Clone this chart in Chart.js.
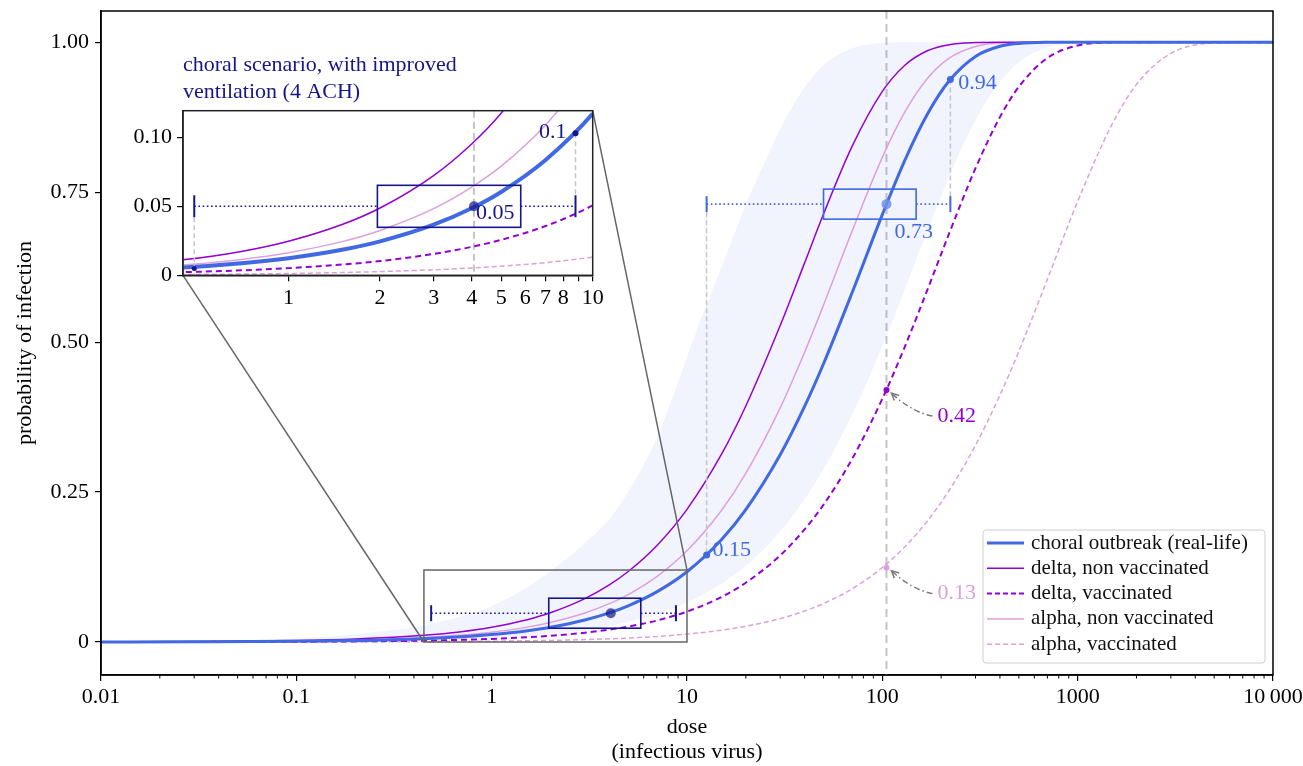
<!DOCTYPE html>
<html><head><meta charset="utf-8">
<script src="https://cdn.jsdelivr.net/npm/chart.js@4.4.0/dist/chart.umd.min.js"></script>
<style>
html,body{margin:0;padding:0;background:#fff;}
#wrap{position:relative;width:1303px;height:766px;overflow:hidden;background:#fff;}
canvas{position:absolute;}
</style></head><body>
<div id="wrap">
<canvas id="main" width="1303" height="766" style="left:0;top:0;width:1303px;height:766px"></canvas>
<canvas id="inset" width="510" height="290" style="left:100px;top:40px;width:510px;height:290px"></canvas>
</div>
<script>
const FONT = "'Liberation Serif','Times New Roman',serif";

// ---- data ----
const doses   = [0.01,0.03,0.1,0.2,0.45,0.7,1,1.5,2,3,4,5,7,10,15,20,30,40,50,70,100,130,170,220,300,400,500,700,1000,1500,2000,3000,5000,10000];
const choral  = [0.0001,0.0004,0.0012,0.0025,0.0056,0.0087,0.0124,0.0185,0.0246,0.0367,0.0486,0.0604,0.0836,0.1172,0.1706,0.2207,0.3121,0.3927,0.4639,0.5822,0.7126,0.8023,0.8799,0.9356,0.9763,0.9932,0.998,0.9998,1,1,1,1,1,1];
const deltaNV = [0.0002,0.0007,0.0025,0.005,0.0112,0.0173,0.0247,0.0368,0.0488,0.0723,0.0952,0.1175,0.1605,0.2212,0.3127,0.3935,0.5276,0.6321,0.7135,0.8262,0.9179,0.9612,0.9857,0.9959,0.9994,1,1,1,1,1,1,1,1,1];
const deltaV  = [0.0001,0.0002,0.0005,0.001,0.0023,0.0036,0.0052,0.0078,0.0103,0.0155,0.0206,0.0257,0.0357,0.0507,0.075,0.0988,0.1444,0.1878,0.2289,0.3051,0.4055,0.4913,0.5869,0.6815,0.7899,0.8751,0.9257,0.9737,0.9945,0.9996,1,1,1,1];
const alphaNV = [0.0002,0.0005,0.0016,0.0033,0.0074,0.0115,0.0164,0.0244,0.0325,0.0483,0.0639,0.0791,0.109,0.1521,0.2192,0.2811,0.3904,0.4831,0.5618,0.685,0.808,0.8829,0.9395,0.9735,0.9929,0.9986,0.9997,1,1,1,1,1,1,1];
const alphaV  = [0,0,0.0001,0.0003,0.0006,0.0009,0.0013,0.002,0.0027,0.004,0.0053,0.0066,0.0092,0.0132,0.0197,0.0262,0.039,0.0517,0.0641,0.0886,0.1242,0.1584,0.2018,0.253,0.3282,0.4116,0.4847,0.6047,0.7345,0.8632,0.9295,0.9813,0.9987,1];

const bandDoses = [0.01,0.03,0.1,0.2,0.3,0.45,0.7,1,1.5,2,3,4,5,6,7,8.5,10,12,14,17,20,25,30,35,40,50,60,70,80,90,110,130,150,170,200,240,280,330,400,470,550,650,800,1000,10000];
const bandHigh  = [0.0006,0.002,0.006,0.013,0.019,0.028,0.043,0.06,0.09,0.118,0.165,0.205,0.25,0.295,0.34,0.41,0.475,0.545,0.6,0.67,0.73,0.8,0.855,0.895,0.925,0.962,0.98,0.99,0.995,0.998,0.9995,1,1,1,1,1,1,1,1,1,1,1,1,1,1];
const bandLow   = [0,0.0002,0.0007,0.0014,0.002,0.003,0.0048,0.0068,0.0101,0.0135,0.0202,0.0268,0.0334,0.04,0.0465,0.0562,0.0657,0.0784,0.0907,0.1092,0.1271,0.1563,0.1846,0.2119,0.2381,0.2882,0.3351,0.3788,0.4195,0.4577,0.5266,0.5869,0.6394,0.6852,0.7434,0.8044,0.851,0.8939,0.9341,0.9591,0.9762,0.988,0.9957,0.9989,1];

const seriesNames = ['choral outbreak (real-life)','delta, non vaccinated','delta, vaccinated','alpha, non vaccinated','alpha, vaccinated'];

const xTickValues = [0.01,0.1,1,10,100,1000,10000];
const xTickLabels = ['0.01','0.1','1','10','100','1000','10\u2009000'];
const yTickValues = [0,0.25,0.5,0.75,1];
const yTickLabels = ['0','0.25','0.50','0.75','1.00'];
const insetXTicks  = [1,2,3,4,5,6,7,8,9,10];
const insetXLabels = ['1','2','3','4','5','6','7','8','','10'];
const insetYTicks  = [0,0.05,0.1];
const insetYLabels = ['0','0.05','0.10'];

// summaries (whisker low, q1, q3, whisker high), medians, marked values
const realBox = [12.6,50,149,223];
const realMedianDose = 105, realMedianP = 0.73;
const realLowDose = 12.6, realLowP = 0.145;
const realHighDose = 223, realHighP = 0.938;
const ventBox = [0.49,1.96,5.8,8.78];
const ventMedianDose = 4.07, ventMedianP = 0.05;
const ventHighP = 0.103, ventLowP = 0.005;
const deltaVAtMean = 0.42, alphaVAtMean = 0.124;
const zoomRect = [0.45,10,0,0.12];

// ---- styles ----
const C_CHORAL = '#4169e1', C_DELTA = '#9400d3', C_ALPHA = '#dda0dd', C_VENT = '#16168c', C_GUIDE = '#c4c4c4';
const legendStyles = [
  {color:C_CHORAL,width:3,dash:[]},
  {color:C_DELTA,width:1.5,dash:[]},
  {color:C_DELTA,width:2,dash:[5,3]},
  {color:C_ALPHA,width:1.5,dash:[]},
  {color:C_ALPHA,width:1.5,dash:[5,3]}
];

function pts(xs, ys){ return xs.map((x,i)=>({x:x,y:ys[i]})); }
function lineSet(label, ys, color, width, dash){
  return {label:label, data:pts(doses,ys), borderColor:color, backgroundColor:color, borderWidth:width,
    borderDash:dash, pointRadius:0, fill:false, cubicInterpolationMode:'monotone', borderCapStyle:'butt'};
}
function curveSets(thick){
  return [
    lineSet(seriesNames[0], choral, C_CHORAL, thick, []),
    lineSet(seriesNames[1], deltaNV, C_DELTA, 1.5, []),
    lineSet(seriesNames[3], alphaNV, C_ALPHA, 1.5, []),
    lineSet(seriesNames[2], deltaV, C_DELTA, 2, [6,4]),
    lineSet(seriesNames[4], alphaV, C_ALPHA, 1.5, [5,3])
  ];
}

function seg(ctx,x0,y0,x1,y1){ ctx.beginPath(); ctx.moveTo(x0,y0); ctx.lineTo(x1,y1); ctx.stroke(); }
function dot(ctx,x,y,r,color){ ctx.beginPath(); ctx.arc(x,y,r,0,Math.PI*2); ctx.fillStyle=color; ctx.fill(); }
function txt(ctx,s,x,y,color,align){ ctx.font='22px '+FONT; ctx.fillStyle=color; ctx.textAlign=align||'left'; ctx.textBaseline='middle'; ctx.fillText(s,x,y); }
function drawBox(ctx,sx,y,b,color,halfH,capH){
  const p=b.map(sx);
  ctx.save();
  ctx.strokeStyle=color; ctx.lineWidth=1.6; ctx.setLineDash([]);
  ctx.strokeRect(p[1],y-halfH,p[2]-p[1],2*halfH);
  ctx.setLineDash([1.6,2.6]); ctx.lineWidth=1.6;
  seg(ctx,p[0],y,p[1],y); seg(ctx,p[2],y,p[3],y);
  ctx.setLineDash([]); ctx.lineWidth=2;
  seg(ctx,p[0],y-capH,p[0],y+capH); seg(ctx,p[3],y-capH,p[3],y+capH);
  ctx.restore();
}
function curvedArrow(ctx,x0,y0,cx,cy,x1,y1){
  ctx.save();
  ctx.strokeStyle='#7a7a7a'; ctx.lineWidth=1.5; ctx.setLineDash([6,3,1.5,3]);
  ctx.beginPath(); ctx.moveTo(x0,y0); ctx.quadraticCurveTo(cx,cy,x1,y1); ctx.stroke();
  ctx.setLineDash([]);
  const a=Math.atan2(y1-cy,x1-cx), L=8;
  ctx.beginPath();
  ctx.moveTo(x1-L*Math.cos(a-0.45),y1-L*Math.sin(a-0.45));
  ctx.lineTo(x1,y1);
  ctx.lineTo(x1-L*Math.cos(a+0.45),y1-L*Math.sin(a+0.45));
  ctx.stroke();
  ctx.restore();
}

// ---- inset chart ----
const INSET_LEFT=100, INSET_TOP=40;
const insetDecor = {
  id:'insetDecor',
  beforeDraw(chart){
    const a=chart.chartArea, ctx=chart.ctx;
    ctx.save(); ctx.fillStyle='#fff'; ctx.fillRect(a.left,a.top,a.right-a.left,a.bottom-a.top); ctx.restore();
  },
  beforeDatasetsDraw(chart){
    const a=chart.chartArea, ctx=chart.ctx, sx=v=>chart.scales.x.getPixelForValue(v);
    ctx.save(); ctx.strokeStyle=C_GUIDE; ctx.lineWidth=2; ctx.setLineDash([7,4]);
    seg(ctx,sx(ventMedianDose),a.top,sx(ventMedianDose),a.bottom); ctx.restore();
  },
  afterDatasetsDraw(chart){
    const a=chart.chartArea, ctx=chart.ctx;
    const sx=v=>chart.scales.x.getPixelForValue(v), sy=v=>chart.scales.y.getPixelForValue(v);
    const yl=sy(ventMedianP), cap=11;
    ctx.save();
    ctx.beginPath(); ctx.rect(a.left,a.top,a.right-a.left,a.bottom-a.top); ctx.clip();
    ctx.strokeStyle=C_GUIDE; ctx.lineWidth=1.5; ctx.setLineDash([5,3]);
    seg(ctx,sx(ventBox[3]),sy(ventHighP),sx(ventBox[3]),yl-cap);
    seg(ctx,sx(ventBox[0]),yl+cap,sx(ventBox[0]),a.bottom);
    ctx.setLineDash([]);
    drawBox(ctx,sx,yl,ventBox,C_VENT,21,cap);
    dot(ctx,sx(ventMedianDose),yl,5,'rgba(22,22,140,0.7)');
    dot(ctx,sx(ventBox[3]),sy(ventHighP),3,C_VENT);
    dot(ctx,sx(ventBox[0]),sy(ventLowP),2.5,C_VENT);
    ctx.restore();
    txt(ctx,'0.1',sx(ventBox[3])-9,sy(ventHighP)-1,C_VENT,'right');
    txt(ctx,'0.05',sx(ventMedianDose)+2,yl+7,C_VENT,'left');
    ctx.save(); ctx.strokeStyle='#222'; ctx.lineWidth=1.5;
    ctx.strokeRect(a.left,a.top,a.right-a.left,a.bottom-a.top); ctx.restore();
    txt(ctx,'choral scenario, with improved',a.left,a.top-45,C_VENT,'left');
    txt(ctx,'ventilation (4 ACH)',a.left,a.top-18,C_VENT,'left');
  }
};
const insetChart = new Chart(document.getElementById('inset'),{
  type:'line',
  data:{datasets:curveSets(4)},
  options:{
    responsive:false, animation:false, devicePixelRatio:1,
    layout:{padding:{left:0,right:17.3,top:70.7,bottom:0}},
    plugins:{legend:{display:false},tooltip:{enabled:false}},
    scales:{
      x:{type:'logarithmic',min:0.45,max:10,
        afterBuildTicks:s=>{s.ticks=insetXTicks.map(v=>({value:v}));},
        ticks:{autoSkip:false,maxRotation:0,minRotation:0,color:'#000',font:{family:FONT,size:22},padding:4,
          callback:(v,i)=>insetXLabels[i]},
        grid:{drawOnChartArea:false,tickLength:6,color:'#000',lineWidth:1.2},
        border:{color:'#222',width:1.5},
        afterFit:s=>{s.height=54.7;s.paddingLeft=0;s.paddingRight=0;}
      },
      y:{min:0,max:0.1193,
        afterBuildTicks:s=>{s.ticks=insetYTicks.map(v=>({value:v}));},
        ticks:{color:'#000',font:{family:FONT,size:22},padding:5,callback:(v,i)=>insetYLabels[i]},
        grid:{drawOnChartArea:false,tickLength:6,color:'#000',lineWidth:1.2},
        border:{color:'#222',width:1.5},
        afterFit:s=>{s.width=83;s.paddingTop=0;s.paddingBottom=0;}
      }
    }
  },
  plugins:[insetDecor]
});

// ---- main chart ----
const mainDecor = {
  id:'mainDecor',
  beforeDatasetsDraw(chart){
    const a=chart.chartArea, ctx=chart.ctx, sx=v=>chart.scales.x.getPixelForValue(v);
    ctx.save(); ctx.strokeStyle=C_GUIDE; ctx.lineWidth=2; ctx.setLineDash([8,5]);
    seg(ctx,sx(realMedianDose),a.top,sx(realMedianDose),a.bottom); ctx.restore();
  },
  afterDatasetsDraw(chart){
    const a=chart.chartArea, ctx=chart.ctx;
    const sx=v=>chart.scales.x.getPixelForValue(v), sy=v=>chart.scales.y.getPixelForValue(v);
    ctx.save();
    ctx.beginPath(); ctx.rect(a.left,a.top,a.right-a.left,a.bottom-a.top); ctx.clip();
    const yr=sy(realMedianP);
    // guide lines
    ctx.strokeStyle=C_GUIDE; ctx.lineWidth=1.5; ctx.setLineDash([5,3]);
    seg(ctx,sx(realLowDose),yr,sx(realLowDose),sy(realLowP));
    seg(ctx,sx(realHighDose),sy(realHighP),sx(realHighDose),yr);
    ctx.setLineDash([]);
    // boxes
    drawBox(ctx,sx,yr,realBox,C_CHORAL,15,8);
    dot(ctx,sx(realMedianDose),yr,5,'rgba(110,145,230,0.85)');
    const yv=sy(0.048);
    drawBox(ctx,sx,yv,ventBox,C_VENT,15,8);
    dot(ctx,sx(ventMedianDose),yv,5,'rgba(22,22,140,0.7)');
    // marked points
    dot(ctx,sx(realHighDose),sy(realHighP),3.5,C_CHORAL);
    dot(ctx,sx(realLowDose),sy(realLowP),3.5,C_CHORAL);
    dot(ctx,sx(realMedianDose),sy(deltaVAtMean),3,C_DELTA);
    dot(ctx,sx(realMedianDose),sy(alphaVAtMean),3,C_ALPHA);
    // labels
    txt(ctx,'0.94',sx(realHighDose)+8,sy(realHighP)+4,C_CHORAL);
    txt(ctx,'0.73',sx(realMedianDose)+8,yr+28,C_CHORAL);
    txt(ctx,'0.15',sx(realLowDose)+6,sy(realLowP)-5,C_CHORAL);
    const xm=sx(realMedianDose);
    const y42=sy(deltaVAtMean), y13=sy(alphaVAtMean);
    txt(ctx,'0.42',xm+51,y42+26,C_DELTA);
    txt(ctx,'0.13',xm+51,y13+26,C_ALPHA);
    curvedArrow(ctx,xm+46,y42+26,xm+25,y42+22,xm+5,y42+3);
    curvedArrow(ctx,xm+46,y13+26,xm+25,y13+22,xm+5,y13+3);
    // zoom rectangle
    ctx.strokeStyle='#666'; ctx.lineWidth=1.5;
    ctx.strokeRect(sx(zoomRect[0]),sy(zoomRect[3]),sx(zoomRect[1])-sx(zoomRect[0]),sy(zoomRect[2])-sy(zoomRect[3]));
    ctx.restore();

    // connectors to inset
    const ia=insetChart.chartArea;
    const iL=INSET_LEFT+ia.left, iR=INSET_LEFT+ia.right, iT=INSET_TOP+ia.top, iB=INSET_TOP+ia.bottom;
    ctx.save(); ctx.strokeStyle='#666'; ctx.lineWidth=1.5;
    seg(ctx,iL,iB,sx(zoomRect[0]),sy(zoomRect[2]));
    seg(ctx,iR,iT,sx(zoomRect[1]),sy(zoomRect[3]));
    ctx.restore();

    // spines
    ctx.save(); ctx.strokeStyle='#000'; ctx.lineWidth=1.5;
    ctx.strokeRect(a.left,a.top,a.right-a.left,a.bottom-a.top);
    // minor ticks
    ctx.lineWidth=1;
    for(let e=-2;e<4;e++){ for(let m=2;m<10;m++){ const v=m*Math.pow(10,e); const x=sx(v); seg(ctx,x,a.bottom,x,a.bottom+3.5);} }
    ctx.restore();

    // axis titles
    const cx=(a.left+a.right)/2;
    txt(ctx,'dose',cx,727,'#000','center');
    txt(ctx,'(infectious virus)',cx,752,'#000','center');
    ctx.save(); ctx.translate(25,(a.top+a.bottom)/2); ctx.rotate(-Math.PI/2);
    txt(ctx,'probability of infection',0,0,'#000','center'); ctx.restore();

    // legend
    const lx=983, ly=530, lw=282, lh=133;
    ctx.save();
    ctx.beginPath(); ctx.roundRect(lx,ly,lw,lh,3);
    ctx.fillStyle='rgba(255,255,255,0.85)'; ctx.fill();
    ctx.strokeStyle='#cfcfcf'; ctx.lineWidth=1; ctx.stroke();
    seriesNames.forEach((name,i)=>{
      const st=legendStyles[i], y=543+i*25.3;
      ctx.strokeStyle=st.color; ctx.lineWidth=st.width; ctx.setLineDash(st.dash);
      seg(ctx,lx+4,y,lx+41,y);
      ctx.setLineDash([]);
      ctx.font='21px '+FONT; ctx.fillStyle='#111'; ctx.textAlign='left'; ctx.textBaseline='middle';
      ctx.fillText(name,lx+48,y);
    });
    ctx.restore();
  }
};

const mainSets = curveSets(3).concat([
  {label:'band high',data:pts(bandDoses,bandHigh),borderWidth:0,borderColor:'rgba(0,0,0,0)',pointRadius:0,
   fill:'+1',backgroundColor:'rgba(65,105,225,0.07)',cubicInterpolationMode:'monotone'},
  {label:'band low',data:pts(bandDoses,bandLow),borderWidth:0,borderColor:'rgba(0,0,0,0)',pointRadius:0,
   fill:false,cubicInterpolationMode:'monotone'}
]);

const mainChart = new Chart(document.getElementById('main'),{
  type:'line',
  data:{datasets:mainSets},
  options:{
    responsive:false, animation:false, devicePixelRatio:1,
    layout:{padding:{left:0,right:30,top:11,bottom:0}},
    plugins:{legend:{display:false},tooltip:{enabled:false}},
    scales:{
      x:{type:'logarithmic',min:0.01,max:10000,
        afterBuildTicks:s=>{s.ticks=xTickValues.map(v=>({value:v}));},
        ticks:{autoSkip:false,maxRotation:0,minRotation:0,color:'#000',font:{family:FONT,size:22},padding:3,
          callback:(v,i)=>xTickLabels[i]},
        grid:{drawOnChartArea:false,tickLength:6,color:'#000',lineWidth:1.2},
        border:{color:'#000',width:1.5},
        afterFit:s=>{s.height=91;s.paddingLeft=0;s.paddingRight=0;}
      },
      y:{min:-0.055,max:1.052,
        afterBuildTicks:s=>{s.ticks=yTickValues.map(v=>({value:v}));},
        ticks:{color:'#000',font:{family:FONT,size:22},padding:6,callback:(v,i)=>yTickLabels[i]},
        grid:{drawOnChartArea:false,tickLength:6,color:'#000',lineWidth:1.2},
        border:{color:'#000',width:1.5},
        afterFit:s=>{s.width=101;s.paddingTop=0;s.paddingBottom=0;}
      }
    }
  },
  plugins:[mainDecor]
});
</script>
</body></html>
